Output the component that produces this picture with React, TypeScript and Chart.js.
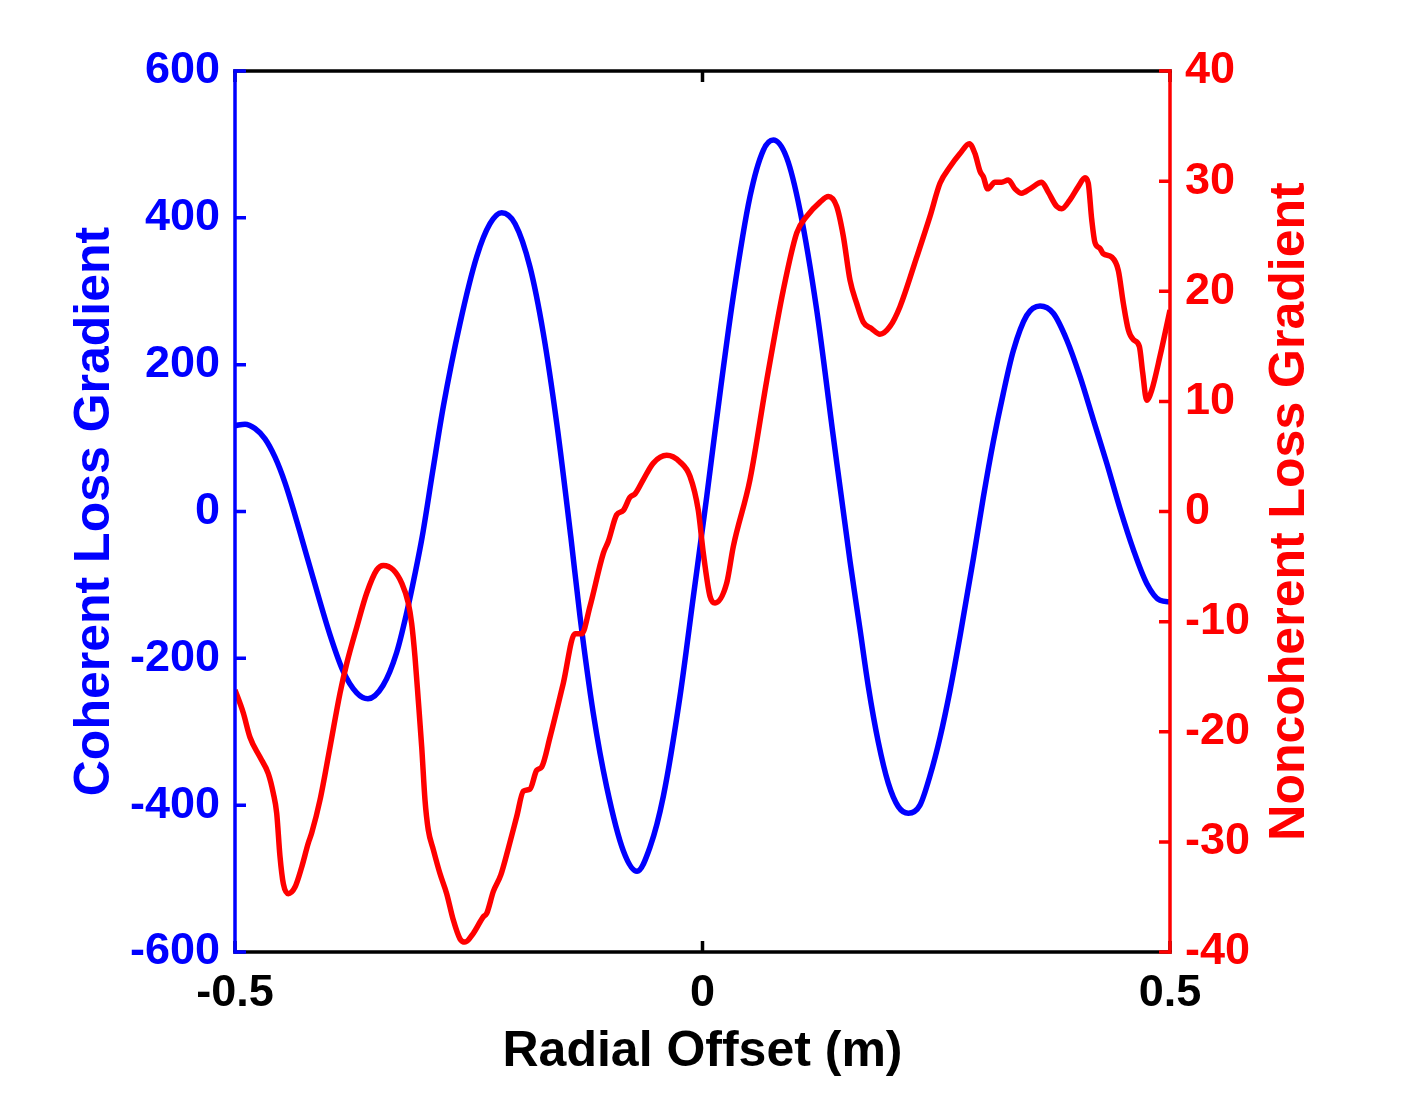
import React, { useEffect, useRef } from "react";
import { Chart, registerables } from "chart.js";

Chart.register(...registerables);

// ---------- data ----------
const coherentX = [
  -0.5, -0.4893, -0.4786, -0.4679, -0.4572, -0.4465, -0.4358, -0.4283, -0.4166, -0.3984,
  -0.3845, -0.3698, -0.3578, -0.3417, -0.3271, -0.3164, -0.3075, -0.2996, -0.2884, -0.2772,
  -0.2594, -0.2415, -0.2273, -0.2148, -0.2005, -0.1845, -0.1703, -0.1559, -0.1408, -0.131,
  -0.1168, -0.1025, -0.0847, -0.07, -0.0561, -0.0419, -0.0241, -0.0098, 0.0045, 0.0143,
  0.0329, 0.0508, 0.065, 0.0757, 0.09, 0.1043, 0.1221, 0.1399, 0.1578, 0.1684,
  0.1773, 0.188, 0.1987, 0.2094, 0.2201, 0.2326, 0.2433, 0.254, 0.2647, 0.2754,
  0.2897, 0.3003, 0.311, 0.3217, 0.3324, 0.3467, 0.361, 0.3752, 0.3895, 0.4037,
  0.418, 0.4323, 0.4465, 0.4608, 0.4751, 0.4893, 0.5,
];
const coherentY = [
  117, 119, 113, 99, 74, 39, -5, -38, -90, -168,
  -217, -247, -255, -237, -192, -138, -85, -33, 56, 143,
  256, 347, 392, 407, 392, 333, 243, 120, -35, -143,
  -275, -375, -462, -490, -457, -388, -252, -116, 20, 118,
  293, 429, 492, 506, 482, 410, 275, 102, -68, -160,
  -238, -314, -370, -402, -411, -400, -360, -308, -244, -170,
  -64, 19, 95, 161, 219, 267, 280, 270, 234, 184,
  125, 66, 4, -52, -98, -121, -123,
];

const noncoherentX = [
  -0.5, -0.4911, -0.484, -0.4733, -0.4644, -0.459, -0.4554, -0.4519, -0.4483, -0.443,
  -0.4358, -0.4287, -0.4216, -0.418, -0.4091, -0.3984, -0.3877, -0.3805, -0.3698, -0.3591,
  -0.3484, -0.3414, -0.3307, -0.3217, -0.3147, -0.311, -0.3075, -0.304, -0.3003, -0.2968,
  -0.2933, -0.2879, -0.2807, -0.2736, -0.2665, -0.2594, -0.254, -0.2451, -0.2344, -0.2308,
  -0.2237, -0.2157, -0.2077, -0.1987, -0.1916, -0.1845, -0.1773, -0.172, -0.1631, -0.1489,
  -0.1364, -0.1292, -0.1203, -0.1061, -0.1007, -0.0918, -0.0847, -0.0775, -0.0722, -0.0633,
  -0.0526, -0.0383, -0.0241, -0.0134, -0.0045, 0.0009, 0.008, 0.0134, 0.0259, 0.0329,
  0.0508, 0.0687, 0.0864, 0.1008, 0.1114, 0.1257, 0.1346, 0.1435, 0.1506, 0.1578,
  0.1649, 0.172, 0.1809, 0.1898, 0.2005, 0.2112, 0.2291, 0.2433, 0.254, 0.2647,
  0.2754, 0.2854, 0.2914, 0.2968, 0.3003, 0.305, 0.3128, 0.32, 0.3271, 0.3342,
  0.3414, 0.3503, 0.3628, 0.3698, 0.3788, 0.3842, 0.393, 0.4019, 0.4091, 0.4126,
  0.4163, 0.4198, 0.4251, 0.4287, 0.4377, 0.4447, 0.4501, 0.4554, 0.4608, 0.4672,
  0.4708, 0.4751, 0.4804, 0.4893, 0.5,
];
const noncoherentY = [
  -16.2, -18.3, -20.5, -22.3, -23.8, -25.6, -27.4, -31.3, -33.8, -34.7,
  -34.1, -32.3, -30.1, -29.2, -26.2, -21.4, -16.5, -13.8, -10.5, -7.4,
  -5.3, -4.9, -5.3, -6.5, -8.3, -10.2, -13.2, -17.1, -21.4, -26.2,
  -28.9, -30.7, -32.9, -34.7, -37.1, -38.8, -39.1, -38.3, -36.8, -36.5,
  -34.5, -33.0, -30.6, -27.7, -25.4, -25.2, -23.5, -23.2, -20.5, -15.6,
  -11.1, -11.1, -8.6, -3.8, -2.7, -0.3, 0.1, 1.3, 1.6, 2.9,
  4.4, 5.1, 4.5, 3.2, 0.1, -3.8, -7.7, -8.3, -6.5, -3.2,
  2.9, 11.9, 20.1, 25.3, 26.8, 28.1, 28.6, 27.7, 25.0, 21.0,
  18.9, 17.2, 16.6, 16.1, 16.8, 18.6, 23.1, 26.8, 29.8, 31.3,
  32.5, 33.4, 32.5, 30.9, 30.4, 29.3, 29.9, 29.9, 30.1, 29.3,
  28.9, 29.3, 29.9, 29.0, 27.7, 27.5, 28.3, 29.5, 30.3, 29.8,
  26.5, 24.4, 23.9, 23.4, 23.1, 21.9, 18.9, 16.5, 15.6, 15.0,
  12.6, 10.1, 11.0, 14.1, 18.3,
];

const xTickValues = [-0.5, 0, 0.5];
const leftTickValues = [-600, -400, -200, 0, 200, 400, 600];
const rightTickValues = [-40, -30, -20, -10, 0, 10, 20, 30, 40];

const xTitle = "Radial Offset (m)";
const leftTitle = "Coherent Loss Gradient";
const rightTitle = "Noncoherent Loss Gradient";

const BLUE = "#0000FF";
const RED = "#FF0000";
const FONT = "'Liberation Sans', Arial, Helvetica, sans-serif";

const W = 1406;
const H = 1094;

export default function App() {
  const canvasRef = useRef<HTMLCanvasElement | null>(null);

  useEffect(() => {
    document.body.style.margin = "0";
    const canvas = canvasRef.current;
    if (!canvas) return;

    const TICK = 11;
    const axesPlugin = {
      id: "matlabAxes",
      afterDraw(chart: any) {
        const { ctx, chartArea: a, scales } = chart;
        ctx.save();
        ctx.lineWidth = 3.5;

        // x axis lines + ticks (black)
        ctx.strokeStyle = "#000000";
        ctx.lineCap = "square";
        ctx.beginPath();
        ctx.moveTo(a.left, a.top);
        ctx.lineTo(a.right, a.top);
        ctx.moveTo(a.left, a.bottom);
        ctx.lineTo(a.right, a.bottom);
        ctx.stroke();
        ctx.lineCap = "butt";
        ctx.beginPath();
        for (const v of xTickValues) {
          const px = scales.x.getPixelForValue(v);
          ctx.moveTo(px, a.bottom);
          ctx.lineTo(px, a.bottom - TICK);
          ctx.moveTo(px, a.top);
          ctx.lineTo(px, a.top + TICK);
        }
        ctx.stroke();

        // left axis (blue)
        ctx.strokeStyle = BLUE;
        ctx.lineCap = "square";
        ctx.beginPath();
        ctx.moveTo(a.left, a.top);
        ctx.lineTo(a.left, a.bottom);
        ctx.stroke();
        ctx.lineCap = "butt";
        ctx.beginPath();
        for (const v of leftTickValues) {
          const py = scales.y.getPixelForValue(v);
          ctx.moveTo(a.left, py);
          ctx.lineTo(a.left + TICK, py);
        }
        ctx.stroke();

        // right axis (red)
        ctx.strokeStyle = RED;
        ctx.lineCap = "square";
        ctx.beginPath();
        ctx.moveTo(a.right, a.top);
        ctx.lineTo(a.right, a.bottom);
        ctx.stroke();
        ctx.lineCap = "butt";
        ctx.beginPath();
        for (const v of rightTickValues) {
          const py = scales.y2.getPixelForValue(v);
          ctx.moveTo(a.right, py);
          ctx.lineTo(a.right - TICK, py);
        }
        ctx.stroke();

        // right axis title, reading bottom-to-top
        ctx.translate(1290, (a.top + a.bottom) / 2);
        ctx.rotate(-Math.PI / 2);
        ctx.fillStyle = RED;
        ctx.font = `bold 50px ${FONT}`;
        ctx.textAlign = "center";
        ctx.textBaseline = "middle";
        ctx.fillText(rightTitle, 0, 0);
        ctx.restore();
      },
    };

    const tickFont = { family: FONT, size: 45, weight: "bold" as const };
    const titleFont = { family: FONT, size: 50, weight: "bold" as const };

    const chart = new Chart(canvas, {
      type: "line",
      data: {
        datasets: [
          {
            label: rightTitle,
            data: noncoherentX.map((x, i) => ({ x, y: noncoherentY[i] })),
            yAxisID: "y2",
            borderColor: RED,
            backgroundColor: RED,
            borderWidth: 5.5,
            pointRadius: 0,
            cubicInterpolationMode: "monotone",
            fill: false,
            order: 0,
          },
          {
            label: leftTitle,
            data: coherentX.map((x, i) => ({ x, y: coherentY[i] })),
            yAxisID: "y",
            borderColor: BLUE,
            backgroundColor: BLUE,
            borderWidth: 5.5,
            pointRadius: 0,
            cubicInterpolationMode: "monotone",
            fill: false,
            order: 1,
          },
        ],
      },
      plugins: [axesPlugin],
      options: {
        responsive: false,
        animation: false,
        devicePixelRatio: 1,
        layout: { padding: { top: 71, left: 0, right: 0, bottom: 0 } },
        plugins: {
          legend: { display: false },
          tooltip: { enabled: false },
          title: { display: false },
        },
        scales: {
          x: {
            type: "linear",
            position: "bottom",
            min: -0.5,
            max: 0.5,
            afterBuildTicks: (s: any) => {
              s.ticks = xTickValues.map((value) => ({ value }));
            },
            afterFit: (s: any) => {
              s.height = H - 952;
            },
            grid: { display: false, drawTicks: false },
            border: { display: false },
            ticks: {
              color: "#000000",
              font: tickFont,
              padding: 15,
              autoSkip: false,
              maxRotation: 0,
              minRotation: 0,
              callback: (v: any) => String(v),
            },
            title: {
              display: true,
              text: xTitle,
              color: "#000000",
              font: titleFont,
              padding: { top: 0, bottom: 12 },
            },
          },
          y: {
            type: "linear",
            position: "left",
            min: -600,
            max: 600,
            afterBuildTicks: (s: any) => {
              s.ticks = leftTickValues.map((value) => ({ value }));
            },
            afterFit: (s: any) => {
              s.width = 235;
            },
            grid: { display: false, drawTicks: false },
            border: { display: false },
            ticks: {
              color: BLUE,
              font: tickFont,
              padding: 15,
              autoSkip: false,
              callback: (v: any) => String(v),
            },
            title: {
              display: true,
              text: leftTitle,
              color: BLUE,
              font: titleFont,
              padding: { top: 65, bottom: 0 },
            },
          },
          y2: {
            type: "linear",
            position: "right",
            min: -40,
            max: 40,
            afterBuildTicks: (s: any) => {
              s.ticks = rightTickValues.map((value) => ({ value }));
            },
            afterFit: (s: any) => {
              s.width = W - 1170;
            },
            grid: { display: false, drawTicks: false },
            border: { display: false },
            ticks: {
              color: RED,
              font: tickFont,
              padding: 15,
              autoSkip: false,
              callback: (v: any) => String(v),
            },
            title: { display: false },
          },
        },
      },
    } as any);

    return () => {
      chart.destroy();
    };
  }, []);

  return (
    <div style={{ position: "absolute", left: 0, top: 0, width: W, height: H, background: "#ffffff" }}>
      <canvas ref={canvasRef} width={W} height={H} style={{ display: "block" }} />
    </div>
  );
}
